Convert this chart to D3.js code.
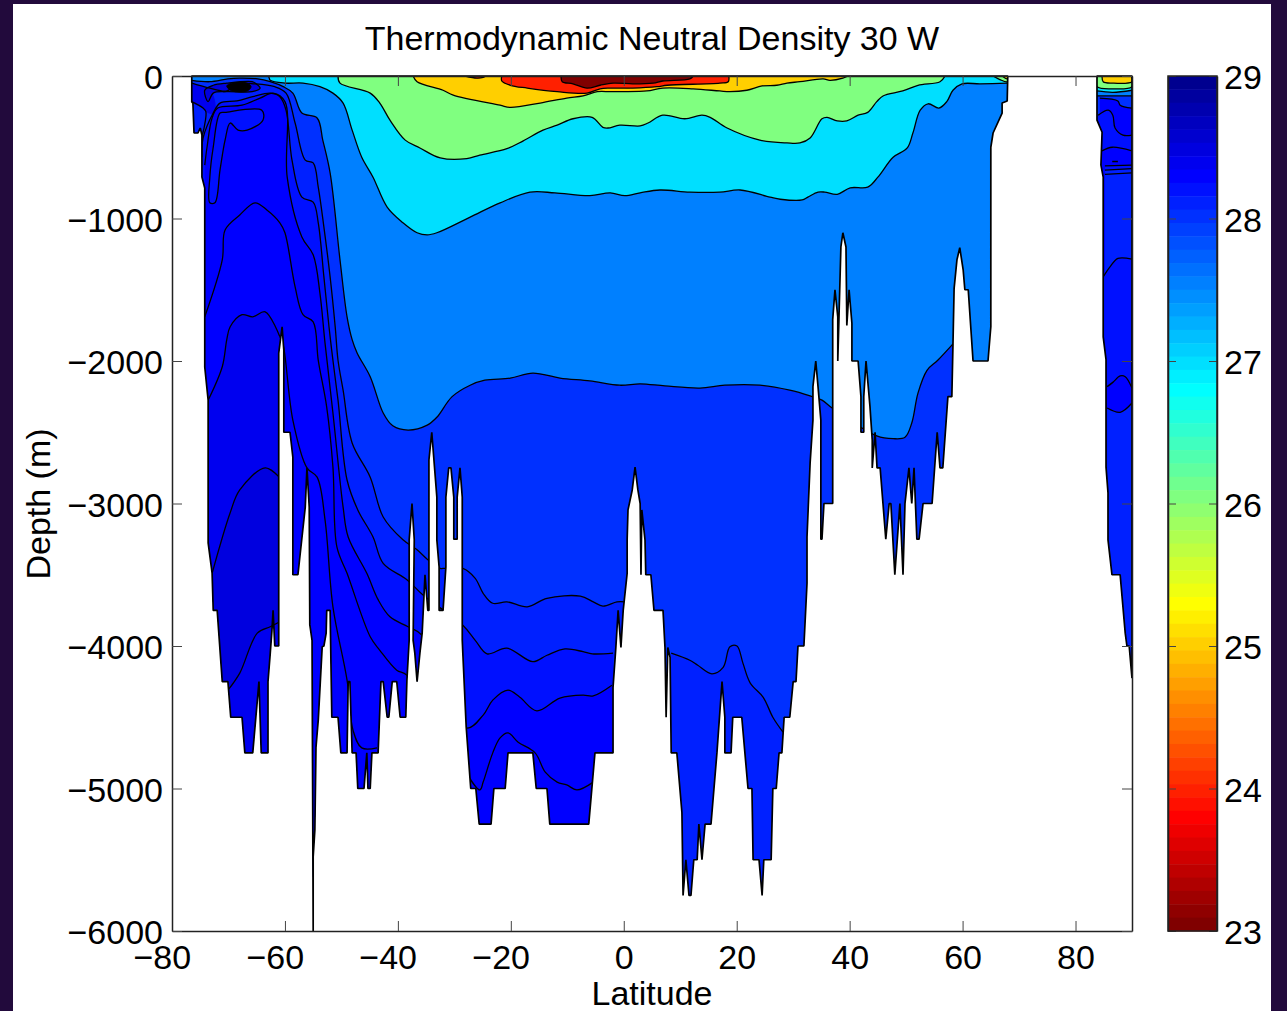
<!DOCTYPE html>
<html lang="en">
    <head>
        <meta charset="utf-8">
        <title>Thermodynamic Neutral Density 30 W</title>
        <script type="text/javascript" src="https://d3js.org/d3.v7.min.js"></script>
    <style>
        html, body {
          margin: 0;
          padding: 0;
          background: #220a3c;
          overflow: hidden;
        }

        text {
          font-family: "Liberation Sans", sans-serif;
          fill: black;
        }
        </style>
    </head>
    <body>
        <script type="text/javascript">

        const width = 1287;
        const height = 1011;

        //Axis ticks
        const latTicks = [-80, -60, -40, -20, 0, 20, 40, 60, 80];
        const depthTicks = [0, -1000, -2000, -3000, -4000, -5000, -6000];
        const barTicks = [23, 24, 25, 26, 27, 28, 29];

        //Sea floor outlines, [latitude, depth]
        const oceanFloor = [[-76.5,0],[-76.5,-182],[-76.3,-190],[-76.1,-400],[-75.4,-400],[-75,-365],[-74.7,-414],[-74.7,-709],[-74.2,-786],[-74.2,-2042],[-73.6,-2274],[-73.6,-3277],[-72.9,-3488],[-72.7,-3750],[-72,-3750],[-71.1,-4250],[-70.1,-4250],[-69.6,-4500],[-67.6,-4500],[-67.1,-4750],[-65.7,-4750],[-64.6,-4250],[-64.2,-4750],[-63,-4750],[-63,-4250],[-62.6,-4050],[-62.3,-3890],[-62.1,-3750],[-61.8,-4000],[-61.1,-4000],[-61.1,-1945],[-60.5,-1760],[-60.2,-1925],[-60.2,-2500],[-59.1,-2500],[-58.6,-2675],[-58.6,-3500],[-57.7,-3500],[-56.4,-3025],[-56.1,-2750],[-55.7,-3025],[-55.6,-3850],[-55.2,-3960],[-55,-6000],[-55,-5480],[-54.7,-5290],[-54.5,-4710],[-54.1,-4520],[-53.4,-4005],[-53.1,-4000],[-52.7,-3910],[-52.6,-3750],[-52,-3750],[-51.7,-4500],[-50.6,-4500],[-50.1,-4750],[-49,-4750],[-48.8,-4250],[-48.5,-4250],[-48.1,-4750],[-47.4,-4750],[-47.1,-5000],[-46,-5000],[-45.5,-4750],[-45.3,-5000],[-44.9,-5000],[-44.6,-4750],[-43.5,-4750],[-43,-4250],[-42.6,-4250],[-41.9,-4500],[-41.6,-4500],[-41,-4250],[-40.2,-4250],[-39.6,-4500],[-38.6,-4500],[-38.4,-4240],[-38,-3960],[-38,-3255],[-37.5,-3000],[-37.1,-3255],[-37.3,-3960],[-37,-4050],[-36.6,-4250],[-36.1,-4050],[-35.7,-3910],[-35.2,-3500],[-34.7,-3750],[-34.5,-3750],[-34.5,-2695],[-34,-2500],[-33.1,-2955],[-33.1,-3255],[-32.7,-3445],[-32.7,-3750],[-32,-3750],[-31.5,-3445],[-31.5,-2955],[-31,-2750],[-30.6,-2750],[-30.1,-2955],[-30.1,-3250],[-29.5,-3250],[-29.5,-2955],[-29,-2750],[-28.6,-2955],[-28.6,-3960],[-28.5,-4050],[-27.9,-4570],[-27.1,-5000],[-26.2,-5000],[-25.6,-5250],[-23.5,-5250],[-23,-5000],[-21,-5000],[-20.5,-4750],[-16.1,-4750],[-15.5,-5000],[-13.6,-5000],[-13.1,-5250],[-6.2,-5250],[-5.1,-4750],[-1.9,-4750],[-1.9,-4290],[-1.4,-4010],[-1,-3750],[-0.5,-4010],[-0.1,-3750],[0.6,-3490],[0.6,-3255],[0.75,-3045],[1.5,-2905],[2,-2745],[2.5,-2905],[2.9,-3000],[3.05,-3500],[3.2,-3045],[3.76,-3255],[3.9,-3500],[4.8,-3500],[5.35,-3750],[6.95,-3750],[7.3,-4010],[7.5,-4500],[7.8,-4010],[8.2,-4080],[8.4,-4750],[9.4,-4750],[10.3,-5170],[10.5,-5750],[11,-5500],[11.55,-5750],[11.9,-5750],[12.4,-5500],[13,-5500],[13.3,-5250],[13.85,-5500],[14.4,-5250],[15.45,-5250],[16.5,-4750],[17.4,-4250],[17.9,-4500],[17.9,-4750],[19,-4750],[19.3,-4500],[20.9,-4500],[22,-5000],[22.7,-5000],[22.9,-5500],[23.95,-5500],[24.5,-5750],[24.8,-5500],[26.1,-5500],[26.4,-5000],[27,-5000],[27.5,-4750],[28,-4750],[28.4,-4500],[29.4,-4500],[30,-4250],[30.5,-4250],[30.85,-4000],[31.9,-4000],[32.45,-3560],[32.45,-3235],[33,-2715],[33.5,-2415],[33.5,-2180],[34,-2000],[34.4,-2180],[34.9,-2415],[34.9,-3250],[35.1,-3250],[35.45,-3000],[37,-3000],[37,-1710],[37.4,-1500],[37.9,-1690],[37.9,-2000],[38.1,-1710],[38.45,-1200],[38.8,-1100],[39.35,-1200],[39.5,-1750],[39.9,-1500],[40.4,-1735],[40.4,-2000],[41.5,-2000],[42,-2250],[42,-2500],[42.5,-2500],[42.5,-2250],[42.9,-2000],[43.6,-2320],[44,-2555],[44,-2750],[44.5,-2500],[44.85,-2750],[45.4,-2750],[45.9,-3000],[46.4,-3250],[47,-3000],[47.3,-3000],[48,-3500],[48.9,-3000],[49.45,-3500],[49.8,-3000],[50.5,-2750],[51,-3000],[51.4,-2750],[51.9,-3250],[52.3,-3250],[53,-3000],[54.6,-3000],[55.5,-2500],[56,-2750],[56.5,-2750],[57.4,-2250],[58.1,-2250],[58.3,-1880],[58.5,-1490],[59,-1290],[59.5,-1205],[60.1,-1360],[60.4,-1500],[61,-1500],[61.85,-2000],[64.5,-2000],[65,-1760],[65,-500],[65.4,-400],[67,-260],[67,-190],[67.9,-175],[68,0]];
        const arcticFloor = [[83.8,0],[83.8,-310],[84.7,-395],[84.5,-625],[84.9,-710],[84.9,-1830],[85.4,-1990],[85.4,-2745],[85.75,-2925],[85.75,-3255],[86.45,-3500],[87.9,-3500],[88.8,-3910],[89.1,-4000],[89.5,-4000],[90,-4225],[90,0]];

        //Surface lenses
        const iso26 = [[-50.6,0],[-50.25,-50],[-44.9,-120],[-43.2,-190],[-41.4,-310],[-38.7,-450],[-36.1,-505],[-32.5,-575],[-27.8,-580],[-25.5,-555],[-20.7,-510],[-17.8,-455],[-14.3,-380],[-11.8,-345],[-9,-300],[-5.6,-290],[-3.7,-360],[-2.8,-365],[-0.7,-345],[2.9,-350],[4.3,-330],[6.9,-275],[10.8,-300],[13.85,-275],[15.3,-290],[18.3,-365],[24.1,-450],[28.9,-470],[31.2,-470],[33,-435],[35.1,-300],[36,-290],[37.8,-315],[39.5,-315],[41.5,-275],[43.2,-255],[44.8,-180],[45.9,-140],[49.4,-105],[52.1,-65],[56,-40],[56.9,0]];
        const iso26End = [[65.4,0],[66.6,-25],[67.9,-40],[68,0]];
        const iso25 = [[-37.3,0],[-36.6,-40],[-32,-100],[-30.2,-135],[-21.9,-205],[-20.1,-220],[-14.8,-190],[-10.1,-155],[-7.2,-140],[-4.7,-110],[-2.4,-110],[-0.1,-110],[4.1,-105],[6.9,-85],[12.3,-90],[17,-105],[18.8,-110],[21.8,-100],[24.5,-70],[27.1,-65],[28.9,-50],[31.2,-40],[35.3,-20],[36.5,-30],[38.8,-15],[39.7,0]];
        const iso25End = [[67,0],[67.9,-20],[68,0]];
        const iso24 = [[-21.6,0],[-21.6,-35],[-20.1,-65],[-17.1,-85],[-11.8,-110],[-6.5,-120],[-4.2,-90],[-2.4,-85],[1.6,-85],[5.9,-75],[7.7,-65],[17,-50],[18.5,-40],[18.6,0]];
        const iso24Patch = [[-28.1,0],[-26,-15],[-24.9,-10],[-24.4,0]];
        const iso23 = [[-11.1,0],[-10.9,-40],[-9,-55],[-6.5,-85],[-4.2,-65],[-1.9,-50],[1.6,-55],[5.2,-50],[6.9,-35],[11.7,-20],[12.3,0]];

        //Main isopycnals, denser water lies below each of them
        const iso275 = [[-76.5,0],[-63,0],[-62.6,-30],[-60,-50],[-56.8,-50],[-53.8,-75],[-51.5,-120],[-49.7,-190],[-48.1,-380],[-46.4,-570],[-44.4,-710],[-41.9,-920],[-39.1,-1030],[-36.6,-1100],[-34.8,-1115],[-33.1,-1100],[-27.2,-990],[-21.9,-890],[-16.6,-815],[-12.2,-820],[-6,-840],[-2.4,-820],[0.2,-840],[2.9,-820],[6.4,-800],[11.7,-815],[17,-815],[20.6,-800],[25.9,-850],[27.7,-865],[31.6,-870],[32.6,-850],[34.4,-815],[35.6,-815],[37.8,-830],[40.1,-785],[43.2,-780],[45,-710],[47.7,-570],[50.2,-505],[51.2,-400],[52.5,-240],[53.9,-195],[55.8,-225],[57.2,-180],[58.3,-100],[59.9,-55],[63.1,-55],[68,-50]];
        const iso28 = [[-76.5,-30],[-73.3,-40],[-70.1,-20],[-68,-15],[-64.8,-20],[-62.6,-40],[-60.3,-75],[-58.6,-120],[-57,-260],[-54.3,-295],[-53.3,-450],[-52,-680],[-50.25,-1290],[-49,-1690],[-48.1,-1850],[-47.2,-1945],[-44.9,-2110],[-42.6,-2365],[-40.9,-2455],[-38.2,-2485],[-34.8,-2450],[-33.1,-2395],[-30.4,-2250],[-27.2,-2170],[-24.6,-2135],[-20.1,-2120],[-16.1,-2085],[-11.3,-2120],[-6,-2140],[-0.7,-2170],[2.9,-2160],[7.3,-2175],[13.5,-2190],[17.9,-2170],[24.1,-2170],[29.4,-2205],[33,-2245],[35.1,-2275],[36.9,-2330],[44.8,-2525],[47.7,-2545],[49.8,-2535],[51,-2435],[52.1,-2225],[53.7,-2065],[55.6,-1995],[58.3,-1880]];
        const iso281 = [[-76.5,-50],[-73.3,-85],[-70.3,-105],[-68.5,-55],[-65.3,-55],[-61.8,-75],[-59.8,-120],[-58.2,-330],[-56.4,-590],[-55,-610],[-54.1,-780],[-53.1,-1060],[-52,-1410],[-51.1,-1760],[-50.6,-1995],[-49.7,-2205],[-48.1,-2575],[-44.9,-2815],[-42.6,-3095],[-39.1,-3255],[-36.6,-3325],[-34.7,-3395],[-32.5,-3455],[-31.7,-3455],[-28.5,-3455],[-26.3,-3525],[-24.9,-3630],[-23.2,-3700],[-20.7,-3690],[-17.1,-3725],[-13.6,-3665],[-7.7,-3650],[-5.4,-3690],[-3.7,-3720],[-1.2,-3690],[0.2,-3690]];
        const iso281East = [[8.4,-4050],[11.7,-4100],[13.1,-4135],[15.6,-4195],[17.6,-4150],[18.8,-4005],[20.05,-4000],[21.1,-4120],[22.4,-4260],[24.7,-4360],[26.4,-4500],[28.2,-4605]];
        const iso282 = [[-74.7,-520],[-74.5,-435],[-72.7,-260],[-71.5,-190],[-68.5,-175],[-65.7,-145],[-62.6,-120],[-60.9,-145],[-59.8,-240],[-58.75,-590],[-57,-850],[-55,-885],[-54.1,-1030],[-53.1,-1410],[-52.2,-1760],[-51.5,-1995],[-50.6,-2275],[-49,-2835],[-47.1,-3045],[-44.4,-3235],[-42.6,-3420],[-38.4,-3535],[-35.6,-3640],[-28.5,-3855],[-26.3,-3960],[-24.2,-4055],[-20.7,-4015],[-16.1,-4110],[-13.6,-4065],[-10.4,-4020],[-7.2,-4040],[-5.6,-4055],[-1.9,-4050]];
        const iso283 = [[-74.2,-625],[-73.8,-500],[-72.9,-295],[-71.9,-225],[-67.6,-205],[-64.4,-155],[-62.1,-120],[-60,-180],[-59.6,-710],[-57,-1130],[-55,-1255],[-53.8,-1525],[-52.9,-1875],[-51.5,-2365],[-49.7,-3025],[-48.8,-3235],[-45.5,-3490],[-43.5,-3675],[-41.4,-3795],[-38.2,-3865],[-35.7,-3925],[-27.8,-4575],[-24.9,-4485],[-23.2,-4380],[-20.5,-4310],[-18.4,-4360],[-15.4,-4455],[-11.3,-4365],[-7.2,-4345],[-5.4,-4350],[-2.1,-4275]];
        const iso284 = [[-74.2,-1690],[-71.1,-1290],[-70.6,-1080],[-68,-975],[-65.3,-890],[-63.2,-940],[-60.9,-1030],[-60,-1100],[-58.2,-1480],[-56.8,-1675],[-55,-1725],[-54.1,-1995],[-52.6,-2325],[-51.5,-2745],[-50.8,-3305],[-49,-3490],[-44.9,-3935],[-43.2,-4030],[-40.2,-4170],[-38.4,-4205],[-25.5,-5010],[-24.9,-4955],[-23.2,-4750],[-21.9,-4645],[-20.5,-4610],[-18.7,-4675],[-15.7,-4750],[-13.9,-4885],[-11.8,-4955],[-10.1,-4975],[-8.3,-5010],[-5.4,-4955]];
        const iso285West = [[-73.6,-2275],[-71.1,-2040],[-70.3,-1850],[-69.7,-1760],[-67.6,-1675],[-65.7,-1690],[-63.5,-1655],[-60.9,-1830]];
        const iso285East = [[-60.9,-1830],[-60.3,-1890],[-58.6,-2415],[-56.1,-2750],[-54.3,-2815],[-52.9,-3115],[-51.5,-3725],[-49,-4240],[-47.95,-4590],[-46.4,-4715],[-43.7,-4715]];
        const iso286 = [[-72.9,-3490],[-69.7,-3065],[-68,-2905],[-63.5,-2750],[-60.9,-2820]];
        const iso286Deep = [[-70.1,-4310],[-68,-4190],[-64.9,-3910],[-62.6,-3865],[-60.9,-3830]];

        //Antarctic shelf details
        const shelfPocket = [[-71.5,-260],[-70.6,-255],[-64.1,-240],[-63.9,-310],[-66.7,-380],[-68.3,-380],[-69.7,-330],[-70.6,-450],[-71.5,-660],[-72.4,-890],[-73.3,-890],[-73.3,-710],[-72.7,-500]];
        const shelfLoop = [[-73.6,-180],[-72.7,-120],[-70.3,-110],[-65.8,-110],[-64.4,-85],[-65.1,-55],[-65.8,-40],[-70.3,-50],[-72.7,-65],[-74.2,-100]];
        const shelfCore = [[-70.3,-70],[-69.4,-50],[-66.7,-50],[-66,-75],[-66.7,-105],[-69.4,-105]];
        const wallCap = [[-76.5,-60],[-73,-110],[-72.4,-270],[-74,-250],[-74.5,-225],[-76.5,-180]];
        const wallLine = [[-76.5,-180],[-74.5,-225],[-74,-250],[-74.3,-360],[-74.7,-430],[-74.7,-570]];

        //Arctic basin
        const arctic26 = [[83.8,0],[83.8,-75],[86.6,-90],[90,-75],[90,0]];
        const arctic25 = [[84.7,0],[84.9,-40],[86.5,-50],[90,-40],[90,0]];
        const arctic275 = [[83.8,-105],[86.6,-115],[90,-100]];
        const arctic28 = [[83.8,-140],[90,-140]];
        const arcticA = [[84.3,-155],[87.5,-175],[87.9,-205],[90,-225]];
        const arcticB = [[84,-275],[85.8,-240],[86.6,-275],[87,-365],[88.4,-415],[90,-415]];
        const arcticC = [[84.7,-525],[86.5,-500],[90,-525]];
        const arcticD = [[85.2,-630],[90,-625]];
        const arcticE = [[85.2,-660],[90,-650]];
        const arcticF = [[85.2,-690],[90,-680]];
        const arcticG = [[84.9,-1410],[86.1,-1340],[87.5,-1280],[90,-1285]];
        const arcticH = [[85.6,-2180],[86.6,-2150],[87.9,-2105],[88.8,-2110],[90,-2190]];
        const arcticI = [[85.6,-2330],[87.9,-2360],[90,-2295]];
        const arcticDash = [[86.5,-600],[87.5,-600]];

        //Which line gets which density colour and how its area closes
        const layers = [
            {pts: iso26, v: 26, close: "top"},
            {pts: iso26End, v: 26, close: "top"},
            {pts: iso25, v: 25, close: "top"},
            {pts: iso25End, v: 25, close: "top"},
            {pts: iso24, v: 24, close: "top"},
            {pts: iso24Patch, v: 24, close: "top"},
            {pts: iso23, v: 23, close: "top"},
            {pts: arctic26, v: 26, close: "top"},
            {pts: arctic25, v: 25, close: "top"},
            {pts: iso275, v: 27.5, close: "down"},
            {pts: iso28, v: 28, close: "down"},
            {pts: iso281, v: 28.1, close: "down"},
            {pts: iso281East, v: 28.1, close: "down"},
            {pts: iso282, v: 28.2, close: "down"},
            {pts: iso283, v: 28.25, close: "down"},
            {pts: iso284, v: 28.3, close: "down"},
            {pts: iso285West, v: 28.4, close: "down"},
            {pts: iso285East, v: 28.3, close: "down"},
            {pts: iso286, v: 28.5, close: "down"},
            {pts: iso286Deep, v: 28.4, close: "down"},
            {pts: wallCap, v: 28.4, close: "loop", noLine: true},
            {pts: wallLine, v: 28.2, close: "none"},
            {pts: shelfPocket, v: 28.2, close: "loop"},
            {pts: shelfLoop, v: 28.5, close: "loop"},
            {pts: arctic275, v: 27.5, close: "down"},
            {pts: arctic28, v: 28, close: "down"},
            {pts: arcticA, v: 28.3, close: "down"},
            {pts: arcticB, v: 28.2, close: "down"},
            {pts: arcticC, v: 28.25, close: "down"},
            {pts: arcticD, v: 28.2, close: "down"},
            {pts: arcticE, v: 28.1, close: "down"},
            {pts: arcticF, v: 28.1, close: "down"},
            {pts: arcticG, v: 28.2, close: "down"},
            {pts: arcticH, v: 28.3, close: "down"},
            {pts: arcticI, v: 28.1, close: "down"},
            {pts: arcticDash, v: 28.3, close: "none"}
        ];

        const xScale = d3.scaleLinear().domain([-80, 90]).range([172, 1132]);
        const yScale = d3.scaleLinear().domain([-6000, 0]).range([931, 76]);
        const barScale = d3.scaleLinear().domain([23, 29]).range([931, 76]);

        //Flipped 64 step jet, row 1 is the dark blue at 29
        function jetRow(row) {
            const clamp = v => Math.max(0, Math.min(1, v));
            const r = row <= 56 ? clamp((row - 24) / 16) : 1 - (row - 56) / 16;
            const g = row <= 24 ? clamp((row - 8) / 16) : clamp(1 - (row - 40) / 16);
            const b = row <= 8 ? 0.5 + row / 16 : clamp(1 - (row - 24) / 16);
            return d3.rgb(r * 255, g * 255, b * 255).formatHex();
        }
        const colorOf = v => jetRow(Math.ceil((29 - v) / 6 * 64));

        const svg = d3.select("body")
                    .append("svg")
                    .attr("width", width)
                    .attr("height", height)
                    .style("display", "block");

        //White figure on the purple page
        svg.append("rect")
            .attr("x", 13)
            .attr("y", 4)
            .attr("width", 1258)
            .attr("height", 1007)
            .attr("fill", "white");

        const straight = d3.line().x(d => xScale(d[0])).y(d => yScale(d[1]));
        const smooth = d3.line().x(d => xScale(d[0])).y(d => yScale(d[1])).curve(d3.curveCatmullRom.alpha(0.5));
        const smoothLoop = d3.line().x(d => xScale(d[0])).y(d => yScale(d[1])).curve(d3.curveCatmullRomClosed.alpha(0.5));

        function areaPath(layer) {
            const p = layer.pts;
            if (layer.close == "loop") return smoothLoop(p);
            if (layer.close == "down") {
                return smooth(p) + "L" + xScale(p[p.length - 1][0]) + "," + yScale(-6000)
                    + "L" + xScale(p[0][0]) + "," + yScale(-6000) + "Z";
            }
            return smooth(p) + "Z";
        }

        //Clip everything to the water
        svg.append("clipPath")
            .attr("id", "water")
            .selectAll("path")
            .data([oceanFloor, arcticFloor])
            .enter()
            .append("path")
            .attr("d", d => straight(d) + "Z");

        const water = svg.append("g").attr("clip-path", "url(#water)");

        water.append("rect")
            .attr("x", xScale(-80))
            .attr("y", yScale(0))
            .attr("width", xScale(90) - xScale(-80))
            .attr("height", yScale(-6000) - yScale(0))
            .attr("fill", colorOf(27));

        water.selectAll("path.band")
            .data(layers.filter(d => d.close != "none"))
            .enter()
            .append("path")
            .attr("class", "band")
            .attr("d", areaPath)
            .attr("fill", d => colorOf(d.v));

        water.selectAll("path.iso")
            .data(layers.filter(d => !d.noLine))
            .enter()
            .append("path")
            .attr("class", "iso")
            .attr("d", d => d.close == "loop" ? smoothLoop(d.pts) : smooth(d.pts))
            .attr("fill", "none")
            .attr("stroke", "black")
            .attr("stroke-width", 1.3);

        water.append("path")
            .attr("d", smoothLoop(shelfCore))
            .attr("fill", "black")
            .attr("stroke", "black");

        //Sea floor outline
        svg.selectAll("path.floor")
            .data([oceanFloor, arcticFloor])
            .enter()
            .append("path")
            .attr("class", "floor")
            .attr("d", d => straight(d) + "Z")
            .attr("fill", "none")
            .attr("stroke", "black")
            .attr("stroke-width", 1.7)
            .attr("stroke-linejoin", "bevel");

        const fmt = d => String(d).replace("-", "\u2212");
        const tickLen = -10;

        function styleAxis(g) {
            g.selectAll("path").attr("stroke", "#222").attr("stroke-width", 1.5);
            g.selectAll("line").attr("stroke", "#444").attr("stroke-width", 1);
            g.selectAll("text").style("font-size", "34px").attr("fill", "black").attr("dy", "0.38em");
            g.attr("font-family", null);
        }

        //Bottom axis, digits sit on the tick and the minus hangs to the left
        svg.append("g")
            .attr("transform", "translate(0," + yScale(-6000) + ")")
            .call(d3.axisBottom(xScale).tickValues(latTicks).tickFormat(fmt).tickSizeInner(tickLen).tickSizeOuter(0).tickPadding(14))
            .call(styleAxis)
            .selectAll("text")
            .attr("dy", "0.71em")
            .attr("dx", d => d < 0 ? "-0.3em" : 0);

        svg.append("g")
            .attr("transform", "translate(0," + yScale(0) + ")")
            .call(d3.axisTop(xScale).tickValues(latTicks).tickFormat("").tickSizeInner(tickLen).tickSizeOuter(0))
            .call(styleAxis);

        svg.append("g")
            .attr("transform", "translate(" + xScale(-80) + ",0)")
            .call(d3.axisLeft(yScale).tickValues(depthTicks).tickFormat(fmt).tickSizeInner(tickLen).tickSizeOuter(0).tickPadding(9))
            .call(styleAxis);

        svg.append("g")
            .attr("transform", "translate(" + xScale(90) + ",0)")
            .call(d3.axisRight(yScale).tickValues(depthTicks).tickFormat("").tickSizeInner(tickLen).tickSizeOuter(0))
            .call(styleAxis);

        //Colour bar
        const barX = 1168;
        const barW = 49;
        const cellH = (barScale(23) - barScale(29)) / 64;
        svg.selectAll("rect.cell")
            .data(d3.range(1, 65))
            .enter()
            .append("rect")
            .attr("class", "cell")
            .attr("x", barX)
            .attr("y", d => barScale(29 - (d - 1) * 6 / 64))
            .attr("width", barW)
            .attr("height", cellH + 0.5)
            .attr("fill", d => jetRow(d));

        svg.append("g")
            .attr("transform", "translate(" + barX + ",0)")
            .call(d3.axisLeft(barScale).tickValues(barTicks).tickFormat("").tickSizeInner(-8).tickSizeOuter(0))
            .call(styleAxis);

        svg.append("g")
            .attr("transform", "translate(" + (barX + barW) + ",0)")
            .call(d3.axisRight(barScale).tickValues(barTicks).tickFormat(fmt).tickSizeInner(-8).tickSizeOuter(0).tickPadding(7))
            .call(styleAxis);

        svg.append("rect")
            .attr("x", barX)
            .attr("y", barScale(29))
            .attr("width", barW)
            .attr("height", barScale(23) - barScale(29))
            .attr("fill", "none")
            .attr("stroke", "#222")
            .attr("stroke-width", 1.5);

        //Titles
        svg.append("text")
            .attr("x", 652)
            .attr("y", 50)
            .attr("text-anchor", "middle")
            .style("font-size", "34px")
            .text("Thermodynamic Neutral Density 30 W");

        svg.append("text")
            .attr("x", 652)
            .attr("y", 1005)
            .attr("text-anchor", "middle")
            .style("font-size", "34px")
            .text("Latitude");

        svg.append("text")
            .attr("transform", "translate(50,504) rotate(-90)")
            .attr("text-anchor", "middle")
            .style("font-size", "34px")
            .text("Depth (m)");

        </script>
    </body>
</html>
